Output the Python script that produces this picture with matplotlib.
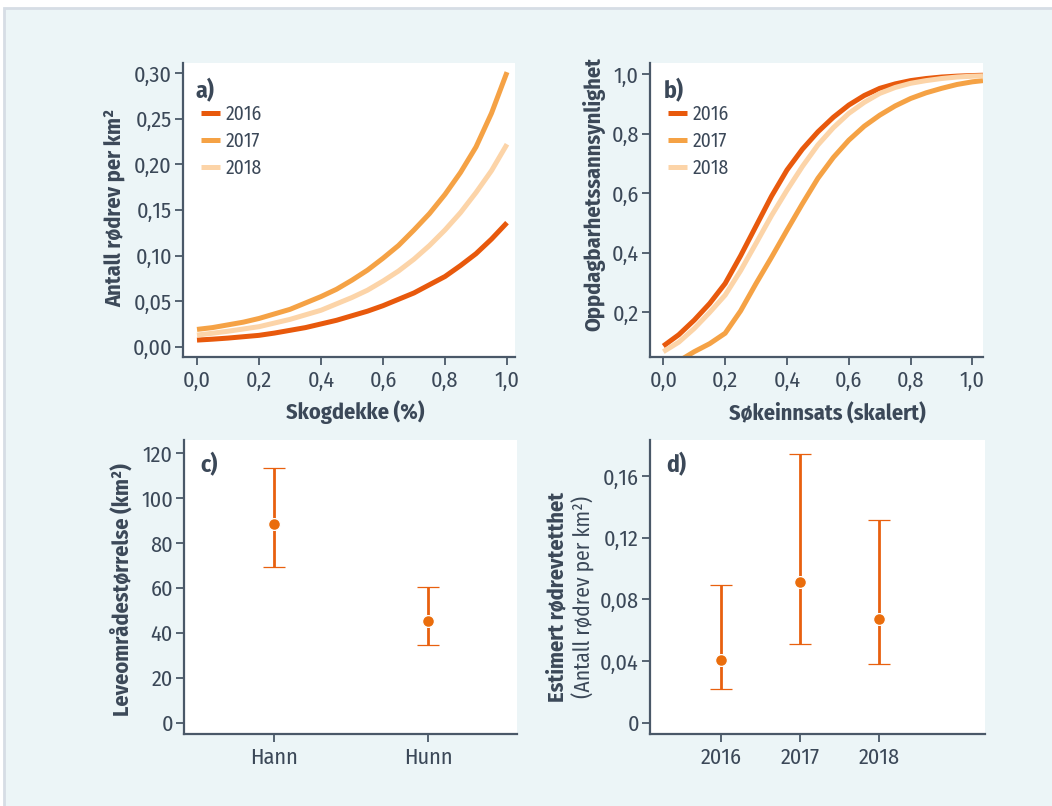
import matplotlib
matplotlib.use("Agg")
import matplotlib.pyplot as plt
from matplotlib import font_manager
from matplotlib.patches import Rectangle

# ---------------- data ----------------
years = ["2016", "2017", "2018"]

# a) density vs forest cover
skog_x = [0.0, 0.05, 0.1, 0.15, 0.2, 0.25, 0.3, 0.35, 0.4, 0.45, 0.5,
          0.55, 0.6, 0.65, 0.7, 0.75, 0.8, 0.85, 0.9, 0.95, 1.0]
tett_2016 = [0.0073, 0.0083, 0.0095, 0.011, 0.0125, 0.015, 0.018, 0.021, 0.025, 0.029, 0.034,
             0.039, 0.045, 0.052, 0.059, 0.068, 0.077, 0.089, 0.102, 0.118, 0.136]
tett_2017 = [0.019, 0.021, 0.024, 0.027, 0.031, 0.036, 0.041, 0.048, 0.055, 0.063, 0.073,
             0.084, 0.097, 0.111, 0.128, 0.146, 0.167, 0.191, 0.219, 0.256, 0.301]
tett_2018 = [0.0128, 0.0148, 0.017, 0.0195, 0.022, 0.026, 0.030, 0.035, 0.040, 0.047, 0.054,
             0.062, 0.072, 0.083, 0.096, 0.111, 0.128, 0.147, 0.169, 0.193, 0.222]

# b) detection probability vs search effort
sok_x = [0.0, 0.05, 0.1, 0.15, 0.2, 0.25, 0.3, 0.35, 0.4, 0.45, 0.5,
         0.55, 0.6, 0.65, 0.7, 0.75, 0.8, 0.85, 0.9, 0.95, 1.0, 1.034]
sok_x17 = [0.065, 0.1, 0.15, 0.2, 0.25, 0.3, 0.35, 0.4, 0.45, 0.5,
           0.55, 0.6, 0.65, 0.7, 0.75, 0.8, 0.85, 0.9, 0.95, 1.0, 1.034]
opp_2016 = [0.087, 0.125, 0.174, 0.23, 0.297, 0.39, 0.49, 0.59, 0.678, 0.748, 0.806,
            0.855, 0.896, 0.928, 0.952, 0.967, 0.978, 0.985, 0.99, 0.993, 0.995, 0.996]
opp_2017 = [0.046, 0.068, 0.095, 0.13, 0.205, 0.297, 0.385, 0.476, 0.565, 0.65,
            0.72, 0.778, 0.825, 0.862, 0.893, 0.918, 0.937, 0.952, 0.965, 0.974, 0.978]
opp_2018 = [0.068, 0.1, 0.146, 0.2, 0.258, 0.34, 0.432, 0.525, 0.61, 0.69, 0.762,
            0.82, 0.868, 0.905, 0.935, 0.955, 0.969, 0.978, 0.985, 0.99, 0.993, 0.994]

# c) home range size
kjonn = ["Hann", "Hunn"]
leve_mean = [88.5, 45.5]
leve_low = [69.4, 34.5]
leve_high = [113.6, 60.3]

# d) estimated density per year
aar = [2016, 2017, 2018]
est_mean = [0.0407, 0.0911, 0.0675]
est_low = [0.0219, 0.0511, 0.0379]
est_high = [0.0891, 0.1743, 0.1313]

# tick labels
a_yticks = [0.0, 0.05, 0.10, 0.15, 0.20, 0.25, 0.30]
a_ylabels = ["0,00", "0,05", "0,10", "0,15", "0,20", "0,25", "0,30"]
x_ticks = [0.0, 0.2, 0.4, 0.6, 0.8, 1.0]
x_labels = ["0,0", "0,2", "0,4", "0,6", "0,8", "1,0"]
b_yticks = [0.2, 0.4, 0.6, 0.8, 1.0]
b_ylabels = ["0,2", "0,4", "0,6", "0,8", "1,0"]
c_yticks = [0, 20, 40, 60, 80, 100, 120]
d_yticks = [0, 0.04, 0.08, 0.12, 0.16]
d_ylabels = ["0", "0,04", "0,08", "0,12", "0,16"]

# ---------------- font: look for a condensed face ----------------
available = {}
for f in font_manager.fontManager.ttflist:
    w = f.weight if isinstance(f.weight, int) else 400
    available.setdefault(f.name, set()).add(w)

font_choice = None
for cand in ["Myriad Pro Condensed", "Fira Sans Condensed", "PT Sans Narrow",
             "Roboto Condensed", "Open Sans Condensed", "Liberation Sans Narrow",
             "Archivo Narrow", "Encode Sans Condensed", "Asap Condensed"]:
    if cand in available and max(available[cand]) >= 600:
        font_choice = cand
        break
if font_choice is None:
    font_choice = "Liberation Sans"

plt.rcParams['font.family'] = [font_choice, 'DejaVu Sans']

# ---------------- style ----------------
bg = "#ecf5f7"
txt = "#3b4858"
spine_c = "#4a5868"
c16 = "#e8590c"
c17 = "#f5a245"
c18 = "#fcd4a8"
c_err = "#e8600f"
c_pt = "#ea6d0c"

tick_fs = 16
lab_fs = 16
W, H = 1052, 806

fig = plt.figure(figsize=(W / 100, H / 100), dpi=100, facecolor="white")
fig.patches.append(Rectangle((4 / W, -0.05), 1.1, 1.05 - 8 / H, transform=fig.transFigure,
                             facecolor=bg, edgecolor="#d6dde5", linewidth=2, zorder=-1))

ax_a = fig.add_axes([0.174, 0.557, 0.3156, 0.3648])
ax_b = fig.add_axes([0.6179, 0.557, 0.3165, 0.3648])
ax_c = fig.add_axes([0.1749, 0.0893, 0.3163, 0.3648])
ax_d = fig.add_axes([0.6179, 0.0893, 0.3184, 0.3648])


def style_axes(ax):
    ax.set_facecolor("white")
    for s in ["top", "right"]:
        ax.spines[s].set_visible(False)
    for s in ["left", "bottom"]:
        ax.spines[s].set_color(spine_c)
        ax.spines[s].set_linewidth(1.6)
    ax.tick_params(axis="both", direction="out", length=5.5, width=1.3, color=spine_c,
                   labelcolor=txt, labelsize=tick_fs)
    ax.tick_params(axis="y", pad=2.5)
    ax.tick_params(axis="x", pad=4)


for ax in [ax_a, ax_b, ax_c, ax_d]:
    style_axes(ax)

lw = 3.6

# a)
ax_a.plot(skog_x, tett_2016, color=c16, lw=lw, label=years[0], solid_capstyle="butt")
ax_a.plot(skog_x, tett_2017, color=c17, lw=lw, label=years[1], solid_capstyle="butt")
ax_a.plot(skog_x, tett_2018, color=c18, lw=lw, label=years[2], solid_capstyle="butt")
ax_a.set_xlim(-0.045, 1.026)
ax_a.set_ylim(-0.0113, 0.311)
ax_a.set_xticks(x_ticks)
ax_a.set_xticklabels(x_labels)
ax_a.set_yticks(a_yticks)
ax_a.set_yticklabels(a_ylabels)
ax_a.set_xlabel("Skogdekke (%)", fontsize=lab_fs, fontweight="bold", color=txt)
ax_a.set_ylabel("Antall rødrev per km²", fontsize=lab_fs, fontweight="bold", color=txt)
ax_a.xaxis.set_label_coords(0.518, -0.146)
ax_a.yaxis.set_label_coords(-0.175, 0.507)

# b)
ax_b.plot(sok_x, opp_2016, color=c16, lw=lw, label=years[0], solid_capstyle="butt")
ax_b.plot(sok_x17, opp_2017, color=c17, lw=lw, label=years[1], solid_capstyle="butt")
ax_b.plot(sok_x, opp_2018, color=c18, lw=lw, label=years[2], solid_capstyle="butt")
ax_b.set_xlim(-0.043, 1.034)
ax_b.set_ylim(0.05, 1.037)
ax_b.set_xticks(x_ticks)
ax_b.set_xticklabels(x_labels)
ax_b.set_yticks(b_yticks)
ax_b.set_yticklabels(b_ylabels)
ax_b.set_xlabel("Søkeinnsats (skalert)", fontsize=lab_fs, fontweight="bold", color=txt)
ax_b.set_ylabel("Oppdagbarhetssannsynlighet", fontsize=lab_fs, fontweight="bold", color=txt)
ax_b.xaxis.set_label_coords(0.532, -0.156)
ax_b.yaxis.set_label_coords(-0.135, 0.554)

for ax in [ax_a, ax_b]:
    leg = ax.legend(loc="upper left", bbox_to_anchor=(0.054, 0.858), frameon=False,
                    fontsize=14, handlelength=1.0, handletextpad=0.25, labelspacing=0.38,
                    borderaxespad=0, borderpad=0)
    for t in leg.get_texts():
        t.set_color(txt)

# c)
xc = [0, 1]
yerr_c = [[m - l for m, l in zip(leve_mean, leve_low)],
          [h - m for m, h in zip(leve_mean, leve_high)]]
ax_c.errorbar(xc, leve_mean, yerr=yerr_c, fmt="o", color=c_err, ecolor=c_err, elinewidth=2,
              capsize=8, capthick=2, markersize=8.5, markerfacecolor=c_pt,
              markeredgecolor="white", markeredgewidth=0.9)
ax_c.set_xlim(-0.58, 1.573)
ax_c.set_ylim(-5, 125.9)
ax_c.set_xticks(xc)
ax_c.set_xticklabels(kjonn)
ax_c.set_yticks(c_yticks)
ax_c.set_ylabel("Leveområdestørrelse (km²)", fontsize=lab_fs, fontweight="bold", color=txt)
ax_c.yaxis.set_label_coords(-0.154, 0.49)

# d)
yerr_d = [[m - l for m, l in zip(est_mean, est_low)],
          [h - m for m, h in zip(est_mean, est_high)]]
ax_d.errorbar(aar, est_mean, yerr=yerr_d, fmt="o", color=c_err, ecolor=c_err, elinewidth=2,
              capsize=8, capthick=2, markersize=8.5, markerfacecolor=c_pt,
              markeredgecolor="white", markeredgewidth=0.9)
ax_d.set_xlim(2015.11, 2019.33)
ax_d.set_ylim(-0.0073, 0.1834)
ax_d.set_xticks(aar)
ax_d.set_xticklabels([str(a) for a in aar])
ax_d.set_yticks(d_yticks)
ax_d.set_yticklabels(d_ylabels)
ax_d.text(-0.278, 0.466, "Estimert rødrevtetthet", transform=ax_d.transAxes, rotation=90,
          ha="center", va="center", fontsize=lab_fs, fontweight="bold", color=txt)
ax_d.text(-0.2, 0.466, "(Antall rødrev per km²)", transform=ax_d.transAxes, rotation=90,
          ha="center", va="center", fontsize=15.5, color=txt)

# panel letters
letter_pos = [(0.039, 0.905), (0.04, 0.905), (0.048, 0.915), (0.048, 0.915)]
for ax, lab, pos in zip([ax_a, ax_b, ax_c, ax_d], ["a)", "b)", "c)", "d)"], letter_pos):
    ax.text(pos[0], pos[1], lab, transform=ax.transAxes, fontsize=17, fontweight="bold",
            color=txt, ha="left", va="center")

fig.savefig("out.png", dpi=100, facecolor="white")
